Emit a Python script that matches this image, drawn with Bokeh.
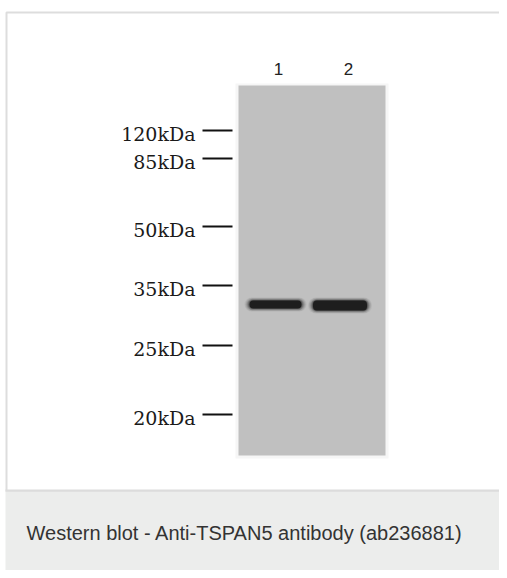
import numpy as np
from bokeh.plotting import figure
from bokeh.embed import file_html
from bokeh.resources import INLINE
from bokeh.core.properties import value

# ---- data ----
marker_labels = ["120kDa", "85kDa", "50kDa", "35kDa", "25kDa", "20kDa"]
marker_migration = [130, 158, 226, 285, 345, 414]   # migration position of each ladder band
lane_labels = ["1", "2"]
lane_label_pos = [278, 348]
band_lane_center = [275, 339.5]
band_migration = [304, 305]
band_length = [52, 54]
band_thickness = [8, 10]
caption = "Western blot - Anti-TSPAN5 antibody (ab236881)"

W, H = 499, 570

# ---- figure in picture-pixel coordinates ----
p = figure(width=W, height=H, x_range=(0, W), y_range=(H, 0),
           output_backend="svg", toolbar_location=None, min_border=0)
p.axis.visible = False
p.grid.visible = False
p.outline_line_color = None
p.background_fill_color = "white"
p.border_fill_color = "white"

# card frame
p.quad(left=[6], right=[W + 5], top=[12], bottom=[491], fill_color="white",
       line_color="#dddddd", line_width=2)
# caption area
p.quad(left=[5], right=[W + 5], top=[491], bottom=[H + 5], fill_color="#ecedec",
       line_color=None)
p.segment(x0=[5], x1=[W + 5], y0=[490], y1=[490], line_color="#dcdcdc", line_width=2)

p.text(x=[26], y=[532], text=[caption], text_font=value("Liberation Sans"),
       text_font_size="20px", text_color="#333333", text_baseline="middle",
       text_align="left")

# blot membrane
p.quad(left=[235], right=[388], top=[83], bottom=[458], fill_color="#f6f6f6",
       line_color=None)
p.quad(left=[238], right=[385], top=[85], bottom=[455], fill_color="#c0c0c0",
       line_color=None)

# bands (soft edges built from layered rounded blocks)
bx = np.array(band_lane_center, dtype=float)
by = np.array(band_migration, dtype=float)
bl = np.array(band_length, dtype=float)
bt = np.array(band_thickness, dtype=float)
for e, a in [(5.0, 0.06), (4.0, 0.09), (3.0, 0.13), (2.0, 0.2), (1.0, 0.3), (0.0, 0.8)]:
    p.quad(left=bx - bl / 2 - e, right=bx + bl / 2 + e,
           top=by - bt / 2 - e * 0.6, bottom=by + bt / 2 + e * 0.6,
           fill_color="#101010", fill_alpha=a, line_color=None,
           border_radius=int(round(bt.min() / 2 + e)))

# lane numbers
p.text(x=lane_label_pos, y=[68, 68], text=lane_labels,
       text_font=value("Liberation Sans"), text_font_size="17px",
       text_color="#222222", text_align="center", text_baseline="middle")

# ladder ticks and labels
my = np.array(marker_migration, dtype=float)
p.segment(x0=[202] * len(my), x1=[232] * len(my), y0=my, y1=my,
          line_color="#111111", line_width=2)
p.text(x=[195] * len(my), y=my + 3, text=marker_labels,
       text_font=value("DejaVu Serif"), text_font_size="19px",
       text_color="#1a1a1a", text_align="right", text_baseline="middle")

open("out.html", "w").write(file_html(p, INLINE))
